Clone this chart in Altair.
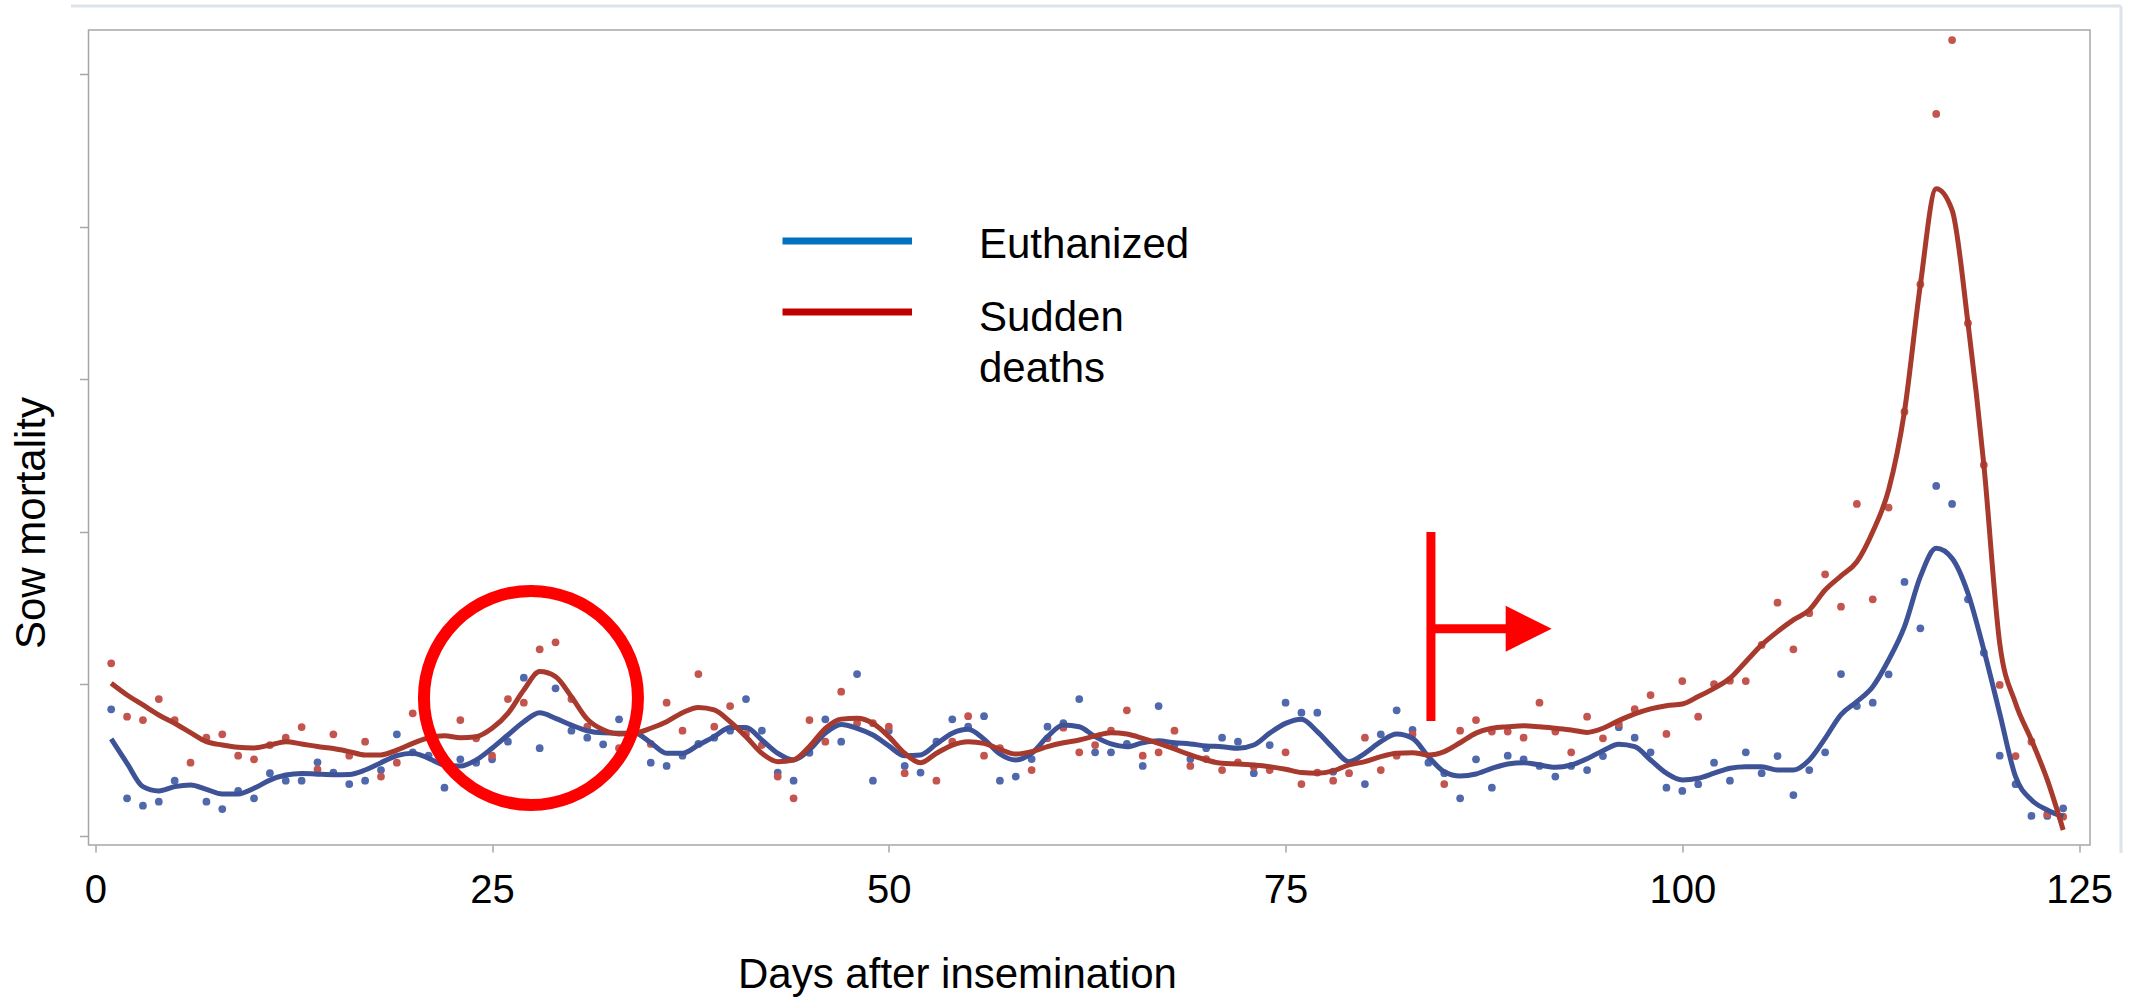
import altair as alt
import pandas as pd

# ---------------- data ----------------
days = list(range(1, 125))
series_names = ["Euthanized", "Sudden deaths"]

euthanized_points = [
    0.834, 0.250, 0.202, 0.228, 0.366, None, 0.228, 0.180, 0.299, 0.250,
    0.415, 0.366, 0.366, 0.487, 0.419, 0.344, 0.366, 0.436, 0.670, 0.552,
    0.530, 0.320, 0.506, 0.484, 0.506, 0.622, 1.042, 0.579, 0.972, 0.694,
    0.648, 0.605, 0.769, 0.769, 0.484, 0.463, 0.530, 0.607, 0.648, 0.694,
    0.902, 0.694, 0.419, 0.366, 0.549, 0.769, 0.622, 1.066, 0.366, 0.694,
    0.463, 0.419, 0.622, 0.769, 0.720, 0.789, 0.366, 0.393, 0.508, 0.720,
    0.743, 0.902, 0.552, 0.552, 0.607, 0.463, 0.856, 0.600, 0.508, 0.579,
    0.648, 0.622, 0.415, 0.600, 0.878, 0.812, 0.812, 0.425, None, 0.344,
    0.670, 0.828, 0.699, 0.484, 0.415, 0.250, 0.506, 0.320, 0.530, 0.506,
    0.463, 0.393, 0.463, 0.436, 0.528, 0.717, 0.648, 0.552, 0.320, 0.299,
    0.343, 0.484, 0.366, 0.552, 0.415, 0.528, 0.272, 0.436, 0.552, 1.066,
    0.856, 0.878, 1.064, 1.670, 1.366, 2.300, 2.182, 1.556, 1.206, 0.530,
    0.343, 0.135, 0.135, 0.185,
]
sudden_points = [
    1.136, 0.786, 0.764, 0.902, 0.764, 0.484, 0.648, 0.670, 0.530, 0.506,
    0.600, 0.648, 0.718, 0.441, 0.670, 0.530, 0.622, 0.393, 0.484, 0.808,
    0.720, None, 0.764, 0.644, 0.530, 0.902, 0.878, 1.228, 1.274, 0.902,
    0.720, None, 0.579, None, 0.607, 0.878, 0.694, 1.066, 0.720, 0.856,
    0.673, 0.600, 0.393, 0.250, 0.764, 0.622, 0.950, 0.743, 0.743, 0.720,
    0.415, None, 0.366, 0.622, 0.789, 0.530, 0.579, None, 0.436, 0.644,
    0.714, 0.552, 0.600, 0.694, 0.828, 0.530, 0.552, 0.694, 0.463, 0.508,
    0.436, 0.487, 0.458, 0.436, 0.552, 0.344, 0.419, 0.366, 0.415, 0.648,
    0.436, 0.530, 0.670, None, 0.344, 0.694, 0.764, 0.688, 0.688, 0.648,
    0.878, 0.688, 0.552, 0.786, 0.644, 0.738, 0.835, 0.928, 0.673, 1.020,
    0.786, 0.999, 1.022, 1.020, 1.257, 1.534, 1.228, 1.465, 1.720, 1.508,
    2.182, 1.556, 2.158, 2.787, 3.623, 4.741, 5.226, 3.368, 2.438, 0.994,
    0.528, 0.622, 0.146, 0.130,
]
euthanized_smooth = [
    0.640, 0.480, 0.327, 0.299, 0.327, 0.338, 0.309, 0.279, 0.279, 0.316,
    0.370, 0.403, 0.414, 0.409, 0.405, 0.407, 0.436, 0.484, 0.530, 0.546,
    0.513, 0.469, 0.462, 0.502, 0.579, 0.666, 0.753, 0.812, 0.775, 0.731,
    0.694, 0.680, 0.678, 0.678, 0.615, 0.546, 0.546, 0.600, 0.655, 0.715,
    0.715, 0.633, 0.546, 0.502, 0.568, 0.678, 0.735, 0.710, 0.666, 0.594,
    0.530, 0.535, 0.607, 0.678, 0.704, 0.638, 0.541, 0.502, 0.546, 0.655,
    0.731, 0.720, 0.655, 0.607, 0.589, 0.615, 0.628, 0.615, 0.607, 0.594,
    0.589, 0.579, 0.600, 0.678, 0.742, 0.769, 0.688, 0.580, 0.491, 0.546,
    0.622, 0.672, 0.644, 0.524, 0.425, 0.397, 0.410, 0.447, 0.476, 0.484,
    0.469, 0.454, 0.469, 0.510, 0.563, 0.605, 0.589, 0.502, 0.415, 0.371,
    0.382, 0.415, 0.448, 0.458, 0.458, 0.436, 0.436, 0.502, 0.644, 0.800,
    0.885, 0.983, 1.158, 1.377, 1.705, 1.891, 1.825, 1.596, 1.224, 0.808,
    0.392, 0.240, 0.174, 0.130,
]
sudden_smooth = [
    1.005, 0.928, 0.863, 0.797, 0.743, 0.681, 0.622, 0.600, 0.585, 0.581,
    0.600, 0.622, 0.607, 0.590, 0.577, 0.557, 0.535, 0.535, 0.567, 0.611,
    0.648, 0.661, 0.648, 0.655, 0.710, 0.808, 0.961, 1.082, 1.049, 0.917,
    0.770, 0.700, 0.673, 0.678, 0.710, 0.753, 0.812, 0.847, 0.830, 0.753,
    0.655, 0.546, 0.491, 0.502, 0.590, 0.710, 0.770, 0.775, 0.742, 0.655,
    0.546, 0.484, 0.546, 0.600, 0.622, 0.611, 0.572, 0.541, 0.557, 0.590,
    0.615, 0.633, 0.660, 0.681, 0.672, 0.644, 0.611, 0.574, 0.535, 0.502,
    0.480, 0.476, 0.469, 0.458, 0.441, 0.419, 0.415, 0.430, 0.470, 0.491,
    0.524, 0.546, 0.550, 0.535, 0.557, 0.615, 0.678, 0.710, 0.720, 0.727,
    0.720, 0.710, 0.699, 0.683, 0.710, 0.760, 0.804, 0.837, 0.858, 0.869,
    0.918, 0.972, 1.038, 1.147, 1.257, 1.344, 1.421, 1.486, 1.617, 1.710,
    1.803, 2.000, 2.274, 2.790, 3.620, 4.250, 4.110, 3.370, 2.440, 1.268,
    0.874, 0.633, 0.371, 0.043,
]
x_tick_values = [0, 25, 50, 75, 100, 125]
y_tick_values = [0, 1, 2, 3, 4, 5]

# annotation anchors (data coordinates)
circle_center = {"day": 27.45, "value": 0.909}
marker_day = 84.16
marker_y_top, marker_y_bottom, marker_arrow_y = 1.998, 0.758, 1.363
arrow_shaft_end, arrow_head_day = 88.9, 90.32

# ---------------- tables ----------------
pts_rows, line_rows = [], []
for name, p_vals, s_vals in [
    (series_names[0], euthanized_points, euthanized_smooth),
    (series_names[1], sudden_points, sudden_smooth),
]:
    for d, v in zip(days, p_vals):
        if v is not None:
            pts_rows.append({"day": d, "value": v, "series": name})
    for d, v in zip(days, s_vals):
        line_rows.append({"day": d, "value": v, "series": name})
pts_df = pd.DataFrame(pts_rows)
line_df = pd.DataFrame(line_rows)
one = pd.DataFrame({"k": [0]})

FONT = "Liberation Sans"
GRAY = "#A6A6A6"
RED = "#FF0000"

x_scale = alt.Scale(domain=[-0.43, 125.69], nice=False, zero=False)
y_scale = alt.Scale(domain=[-0.056, 5.292], nice=False, zero=False)

x_axis = alt.Axis(
    values=x_tick_values, grid=False, domain=False,
    tickSize=7, tickColor=GRAY, tickWidth=1.5,
    labelFont=FONT, labelFontSize=40, labelColor="#000000",
    labelPadding=50, labelBaseline="alphabetic", labelFlush=False,
    title="Days after insemination", titleFont=FONT, titleFontSize=42,
    titleFontWeight="normal", titleColor="#000000",
    titleX=649, titleY=142, titleAlign="left", titleBaseline="alphabetic",
)
y_axis = alt.Axis(
    values=y_tick_values, grid=False, domain=False, labels=False,
    tickSize=9, tickColor=GRAY, tickWidth=1.5,
    title="Sow mortality", titleFont=FONT, titleFontSize=42,
    titleFontWeight="normal", titleColor="#000000",
    titleAngle=270, titleX=-44.5, titleY=492.5,
    titleAlign="center", titleBaseline="alphabetic",
)

points = alt.Chart(pts_df).mark_circle(size=60, opacity=1).encode(
    x=alt.X("day:Q", scale=x_scale, axis=x_axis),
    y=alt.Y("value:Q", scale=y_scale, axis=y_axis),
    color=alt.Color("series:N", scale=alt.Scale(domain=series_names,
                    range=["#5068AC", "#C4544E"]), legend=None),
)

lines = alt.Chart(line_df).mark_line(strokeWidth=5, interpolate="monotone",
                                     strokeJoin="round").encode(
    x="day:Q",
    y="value:Q",
    stroke=alt.Stroke("series:N", scale=alt.Scale(domain=series_names,
                      range=["#3D5297", "#A8392D"]), legend=None),
)

circle = alt.Chart(one).mark_point(
    shape="circle", filled=False, size=45796, strokeWidth=12, color=RED, opacity=1
).encode(x=alt.datum(circle_center["day"]), y=alt.datum(circle_center["value"]))

v_bar = alt.Chart(one).mark_rule(color=RED, strokeWidth=9).encode(
    x=alt.datum(marker_day), y=alt.datum(marker_y_top), y2=alt.datum(marker_y_bottom))
h_bar = alt.Chart(one).mark_rule(color=RED, strokeWidth=9).encode(
    x=alt.datum(marker_day), x2=alt.datum(arrow_shaft_end), y=alt.datum(marker_arrow_y))
head = alt.Chart(one).mark_point(
    shape="M-1,-1L1,0L-1,1Z", filled=True, size=2116, color=RED, opacity=1, strokeWidth=0
).encode(x=alt.datum(arrow_head_day), y=alt.datum(marker_arrow_y))

# legend drawn by hand (placed like the original)
leg_blue = alt.Chart(one).mark_rule(color="#0070C0", strokeWidth=7).encode(
    x=alt.value(694), x2=alt.value(823.5), y=alt.value(211))
leg_red = alt.Chart(one).mark_rule(color="#C00000", strokeWidth=7).encode(
    x=alt.value(694), x2=alt.value(823.5), y=alt.value(282))
leg_t1 = alt.Chart(one).mark_text(font=FONT, fontSize=42, align="left",
                                  baseline="alphabetic", color="#000000").encode(
    x=alt.value(890.5), y=alt.value(228), text=alt.value(series_names[0]))
leg_t2 = alt.Chart(one).mark_text(font=FONT, fontSize=42, align="left",
                                  baseline="alphabetic", color="#000000").encode(
    x=alt.value(890.5), y=alt.value(301), text=alt.value("Sudden"))
leg_t3 = alt.Chart(one).mark_text(font=FONT, fontSize=42, align="left",
                                  baseline="alphabetic", color="#000000").encode(
    x=alt.value(890.5), y=alt.value(352), text=alt.value("deaths"))

# faint slide border lines
edge_top = alt.Chart(one).mark_rule(color="#DDE3EA", strokeWidth=3).encode(
    x=alt.value(-17.5), x2=alt.value(2032.5), y=alt.value(-24))
edge_right = alt.Chart(one).mark_rule(color="#DDE3EA", strokeWidth=3).encode(
    x=alt.value(2032.5), y=alt.value(-24), y2=alt.value(823))

chart = alt.layer(
    points, lines, circle, v_bar, h_bar, head,
    leg_blue, leg_red, leg_t1, leg_t2, leg_t3, edge_top, edge_right,
).resolve_scale(color="independent", stroke="independent").properties(
    width=2001.5, height=815,
    autosize=alt.AutoSizeParams(type="none"),
    padding={"left": 88.5, "top": 30, "right": 54, "bottom": 154},
    background="#FFFFFF",
).configure_view(stroke=GRAY, strokeWidth=1.5)

chart.save("out.html", embed_options={"renderer": "svg", "actions": False})
